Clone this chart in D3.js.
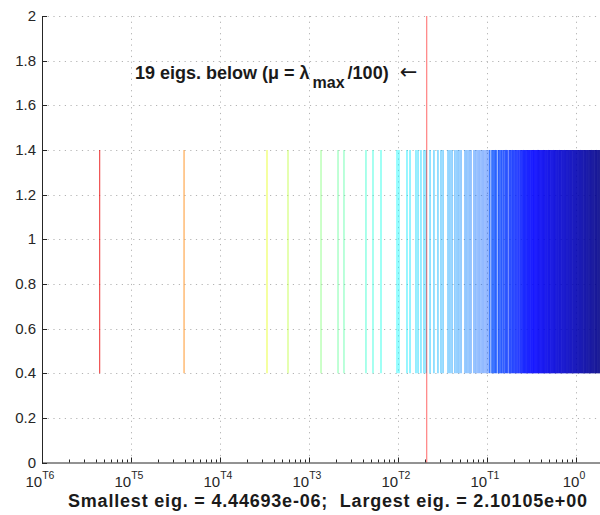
<!DOCTYPE html>
<html><head><meta charset="utf-8">
<script src="https://cdn.jsdelivr.net/npm/d3@7"></script>
<style>body{margin:0;background:#fff;overflow:hidden} svg{display:block}</style>
</head><body>
<svg id="chart" width="600" height="515"></svg>
<script>
// log10 of each eigenvalue
const eigExp = [
 -5.352, -4.404, -3.472, -3.236, -2.865, -2.674, -2.607, -2.360, -2.281, -2.191,
 -2.011, -1.989, -1.899, -1.865, -1.798, -1.775, -1.742, -1.708, -1.685,
 -1.640, -1.596, -1.551, -1.517, -1.494, -1.438, -1.416, -1.393, -1.360, -1.337,
 -1.315, -1.292, -1.247, -1.225, -1.202, -1.180, -1.146, -1.124, -1.101, -1.079,
 -1.056, -1.034, -1.011, -0.989, -0.972, -0.955,
 -0.944, -0.936, -0.925, -0.917, -0.905, -0.898, -0.889, -0.872, -0.866, -0.857,
 -0.846, -0.838, -0.829, -0.818, -0.811, -0.800, -0.792, -0.781, -0.774, -0.766,
 -0.752, -0.745, -0.737, -0.728, -0.720, -0.713, -0.703, -0.695, -0.688, -0.679,
 -0.671, -0.664, -0.655, -0.648, -0.641, -0.632, -0.625, -0.618, -0.611, -0.603,
 -0.597, -0.590, -0.584, -0.578, -0.571, -0.565, -0.559, -0.552, -0.546, -0.540,
 -0.533, -0.527, -0.521, -0.515, -0.508, -0.502, -0.496, -0.490, -0.483, -0.477,
 -0.471, -0.465, -0.458, -0.452, -0.446, -0.440, -0.433, -0.427, -0.421, -0.415,
 -0.409, -0.402, -0.396, -0.390, -0.384, -0.377, -0.371, -0.365, -0.359, -0.353,
 -0.346, -0.340, -0.334, -0.328, -0.322, -0.315, -0.309, -0.303, -0.297, -0.291,
 -0.284, -0.278, -0.272, -0.266, -0.260, -0.253, -0.247, -0.241, -0.235, -0.229,
 -0.222, -0.216, -0.210, -0.204, -0.198, -0.191, -0.185, -0.179, -0.173, -0.167,
 -0.160, -0.154, -0.148, -0.142, -0.136, -0.129, -0.123, -0.117, -0.111, -0.105,
 -0.098, -0.092, -0.086, -0.080, -0.074, -0.067, -0.061, -0.055, -0.049, -0.043,
 -0.036, -0.030, -0.024, -0.018, -0.012, -0.005, 0.001, 0.007, 0.013, 0.019,
 0.026, 0.032, 0.038, 0.044, 0.050, 0.057, 0.063, 0.069, 0.075, 0.081,
 0.088, 0.094, 0.100, 0.106, 0.112, 0.119, 0.125, 0.131, 0.137, 0.143,
 0.150, 0.156, 0.162, 0.168, 0.174, 0.181, 0.187, 0.193, 0.199, 0.205,
 0.212, 0.218, 0.224, 0.230, 0.236, 0.243, 0.249, 0.255, 0.261, 0.267,
 0.274, 0.280, 0.286, 0.292, 0.298, 0.305, 0.311, 0.317, 0.3225
];
const smallestEig = 4.44693e-6;
const largestEig = 2.10105;
const muDivisor = 100;
const belowCount = 19;
const lineSpan = [0.4, 1.4];
const yDomain = [0, 2];
const yTicks = [0, 0.2, 0.4, 0.6, 0.8, 1, 1.2, 1.4, 1.6, 1.8, 2];
const yTickLabels = ["0", "0.2", "0.4", "0.6", "0.8", "1", "1.2", "1.4", "1.6", "1.8", "2"];
const xTickExps = [-6, -5, -4, -3, -2, -1, 0];
const xTickSup = ["T6", "T5", "T4", "T3", "T2", "T1", "0"];

const eigs = eigExp.map(e => Math.pow(10, e));
eigs[0] = smallestEig;

const svg = d3.select("#chart");
const L = 42, R = 604.7, T = 16, B = 462.5;
const x = d3.scaleLog().domain([1e-6, largestEig]).range([L, R]);
const y = d3.scaleLinear().domain(yDomain).range([B, T]);

function jet(t) {
  const c = v => Math.max(0, Math.min(1, v));
  const r = c(Math.min(4 * t - 1.5, -4 * t + 4.5));
  const g = c(Math.min(4 * t - 0.5, -4 * t + 3.5));
  const b = c(Math.min(4 * t + 0.5, -4 * t + 2.5));
  return d3.rgb(r * 255, g * 255, b * 255).toString();
}
const lmin = Math.log10(1e-6), lmax = Math.log10(largestEig);
const colorOf = v => jet(1 - (Math.log10(v) - lmin) / (lmax - lmin));

// grid
const grid = svg.append("g").attr("stroke", "#b4b4b4").attr("stroke-width", 1)
  .attr("stroke-dasharray", "1.2,4.5");
grid.selectAll("line.h").data(yTicks.slice(1)).join("line")
  .attr("x1", L).attr("x2", R).attr("y1", d => Math.round(y(d)) + 0.5).attr("y2", d => Math.round(y(d)) + 0.5);
grid.selectAll("line.v").data(xTickExps.slice(1)).join("line")
  .attr("y1", T).attr("y2", B).attr("x1", d => Math.round(x(Math.pow(10, d))) + 0.5).attr("x2", d => Math.round(x(Math.pow(10, d))) + 0.5);

// eigen lines
svg.append("g").selectAll("line").data(eigs).join("line")
  .attr("x1", d => x(d)).attr("x2", d => x(d))
  .attr("y1", y(lineSpan[0])).attr("y2", y(lineSpan[1]))
  .attr("stroke", d => colorOf(d)).attr("stroke-width", 1.1).attr("stroke-opacity", 0.75);

// mu line
const mu = largestEig / muDivisor;
svg.append("line").attr("x1", x(mu)).attr("x2", x(mu)).attr("y1", y(yDomain[0])).attr("y2", y(yDomain[1]))
  .attr("stroke", "#ff0000").attr("stroke-width", 1.2).attr("stroke-opacity", 0.5);

// axes
const axisColor = "#262626";
const ax = svg.append("g").attr("stroke", axisColor).attr("stroke-width", 1).attr("fill", "none");
ax.append("line").attr("x1", L + 0.5).attr("x2", L + 0.5).attr("y1", T).attr("y2", B + 0.5);
ax.append("line").attr("x1", L).attr("x2", R).attr("y1", B + 0.5).attr("y2", B + 0.5);
ax.selectAll("line.yt").data(yTicks).join("line")
  .attr("x1", L).attr("x2", L + 5).attr("y1", d => Math.round(y(d)) + 0.5).attr("y2", d => Math.round(y(d)) + 0.5);
ax.selectAll("line.xt").data(xTickExps).join("line")
  .attr("x1", d => Math.round(x(Math.pow(10, d))) + 0.5).attr("x2", d => Math.round(x(Math.pow(10, d))) + 0.5)
  .attr("y1", B).attr("y2", B - 5);
const minor = [];
xTickExps.forEach(e => { for (let k = 2; k <= 9; k++) { const v = k * Math.pow(10, e); if (v <= largestEig) minor.push(v); } });
ax.selectAll("line.xm").data(minor).join("line")
  .attr("x1", d => Math.round(x(d)) + 0.5).attr("x2", d => Math.round(x(d)) + 0.5)
  .attr("y1", B).attr("y2", B - 3);

const font = "'Liberation Sans', Arial, Helvetica, sans-serif";
svg.append("g").selectAll("text").data(yTicks).join("text")
  .attr("x", 36).attr("y", d => y(d) + 5).attr("text-anchor", "end")
  .attr("font-family", font).attr("font-size", 15).attr("fill", axisColor)
  .text((d, i) => yTickLabels[i]);
const xl = svg.append("g").attr("font-family", font).attr("fill", axisColor);
xTickExps.forEach((e, i) => {
  const t = xl.append("text").attr("x", x(Math.pow(10, e)) - 2).attr("y", 487).attr("text-anchor", "middle");
  t.append("tspan").attr("font-size", 15).text("10");
  t.append("tspan").attr("font-size", 10.5).attr("dy", -8).text(xTickSup[i]);
});

// annotation
const ann = svg.append("text").attr("x", 135).attr("y", 79)
  .attr("font-family", font).attr("font-size", 18).attr("font-weight", "bold").attr("fill", "#1a1a1a");
ann.append("tspan").text(belowCount + " eigs. below (μ = λ");
ann.append("tspan").attr("font-size", 16).attr("dx", 3).attr("dy", 9).text("max");
ann.append("tspan").attr("dx", 3).attr("dy", -9).text("/" + muDivisor + ")");
ann.append("tspan").attr("font-weight", "normal").attr("font-family", "'DejaVu Sans', sans-serif")
  .attr("font-size", 21).attr("dx", 11).text("←");

// bottom title
svg.append("text").attr("x", 68).attr("y", 507).style("white-space", "pre")
  .attr("font-family", font).attr("font-size", 18).attr("font-weight", "bold").attr("fill", "#1a1a1a")
  .attr("textLength", 519).attr("lengthAdjust", "spacing")
  .text("Smallest eig. = " + smallestEig.toExponential(5).replace("e-6", "e-06") + ";  Largest eig. = " + largestEig.toExponential(5).replace("e+0", "e+00"));
</script>
</body></html>
